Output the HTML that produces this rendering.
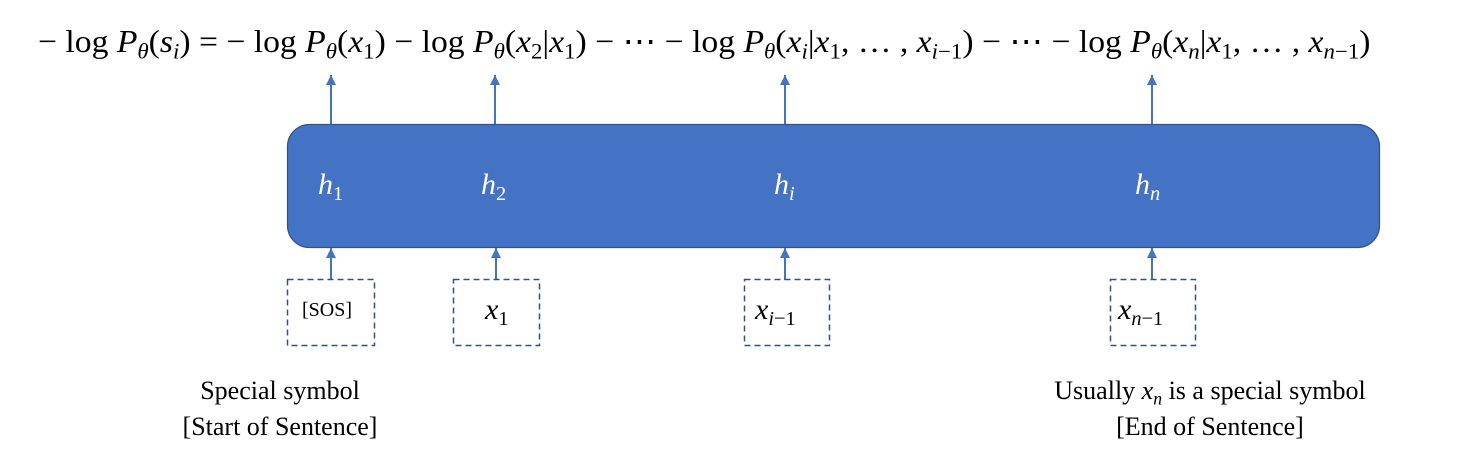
<!DOCTYPE html>
<html><head><meta charset="utf-8"><style>
body{margin:0;width:1482px;height:464px;background:#fff;position:relative;overflow:hidden;font-family:"Liberation Serif",serif;}
.eq{position:absolute;left:38px;top:22px;font-size:32px;white-space:nowrap;color:#000;transform-origin:0 0;transform:scaleX(1.052)}
i{font-style:italic}
sub{font-size:0.68em;vertical-align:-0.3em;line-height:0}
.h{position:absolute;color:#fff;font-size:30px;font-style:italic}
.h sub{font-style:normal}
.x{position:absolute;font-size:30px;font-style:italic;color:#000}
.x sub{font-style:normal}
.cap{position:absolute;font-size:26px;text-align:center;color:#000;line-height:36px}
</style></head><body>
<div class="eq">− log <i>P</i><sub><i>θ</i></sub>(<i>s</i><sub><i>i</i></sub>) = − log <i>P</i><sub><i>θ</i></sub>(<i>x</i><sub>1</sub>) − log <i>P</i><sub><i>θ</i></sub>(<i>x</i><sub>2</sub>|<i>x</i><sub>1</sub>) − ⋯ − log <i>P</i><sub><i>θ</i></sub>(<i>x</i><sub><i>i</i></sub>|<i>x</i><sub>1</sub>, … , <i>x</i><sub><i>i</i>−1</sub>) − ⋯ − log <i>P</i><sub><i>θ</i></sub>(<i>x</i><sub><i>n</i></sub>|<i>x</i><sub>1</sub>, … , <i>x</i><sub><i>n</i>−1</sub>)</div>
<svg width="1482" height="464" style="position:absolute;left:0;top:0">
<defs><marker id="a" markerWidth="12" markerHeight="12" refX="10" refY="5" orient="auto" markerUnits="userSpaceOnUse"><path d="M0,0 L10,5 L0,10 Z" fill="#4472C4"/></marker></defs>
<rect x="287.5" y="124.5" width="1092" height="123" rx="22" fill="#4472C4" stroke="#2F528F" stroke-width="1.2"/>
<g stroke="#4472C4" stroke-width="2">
<line x1="331" y1="124" x2="331" y2="75" marker-end="url(#a)"/>
<line x1="495" y1="124" x2="495" y2="75" marker-end="url(#a)"/>
<line x1="785" y1="124" x2="785" y2="75" marker-end="url(#a)"/>
<line x1="1152" y1="124" x2="1152" y2="75" marker-end="url(#a)"/>
<line x1="331" y1="280" x2="331" y2="248" marker-end="url(#a)"/>
<line x1="496" y1="280" x2="496" y2="248" marker-end="url(#a)"/>
<line x1="785" y1="280" x2="785" y2="248" marker-end="url(#a)"/>
<line x1="1152" y1="280" x2="1152" y2="248" marker-end="url(#a)"/>
</g>
<g fill="none" stroke="#2F528F" stroke-width="1.5" stroke-dasharray="6,4">
<rect x="287.5" y="279.5" width="87" height="66"/>
<rect x="453.5" y="279.5" width="86" height="66"/>
<rect x="744.5" y="279.5" width="85" height="66"/>
<rect x="1110.5" y="279.5" width="85" height="66"/>
</g>
</svg>
<div class="h" style="left:318px;top:168px">h<sub>1</sub></div>
<div class="h" style="left:481px;top:168px">h<sub>2</sub></div>
<div class="h" style="left:774px;top:168px">h<sub><i>i</i></sub></div>
<div class="h" style="left:1135px;top:168px">h<sub><i>n</i></sub></div>
<div style="position:absolute;left:302px;top:299px;font-size:20px">[SOS]</div>
<div class="x" style="left:485px;top:293px">x<sub>1</sub></div>
<div class="x" style="left:755px;top:293px">x<sub><i>i</i>−1</sub></div>
<div class="x" style="left:1118px;top:293px">x<sub><i>n</i>−1</sub></div>
<div class="cap" style="left:130px;top:373px;width:300px">Special symbol<br>[Start of Sentence]</div>
<div class="cap" style="left:990px;top:373px;width:440px">Usually <i>x</i><sub><i>n</i></sub> is a special symbol<br>[End of Sentence]</div>
</body></html>
